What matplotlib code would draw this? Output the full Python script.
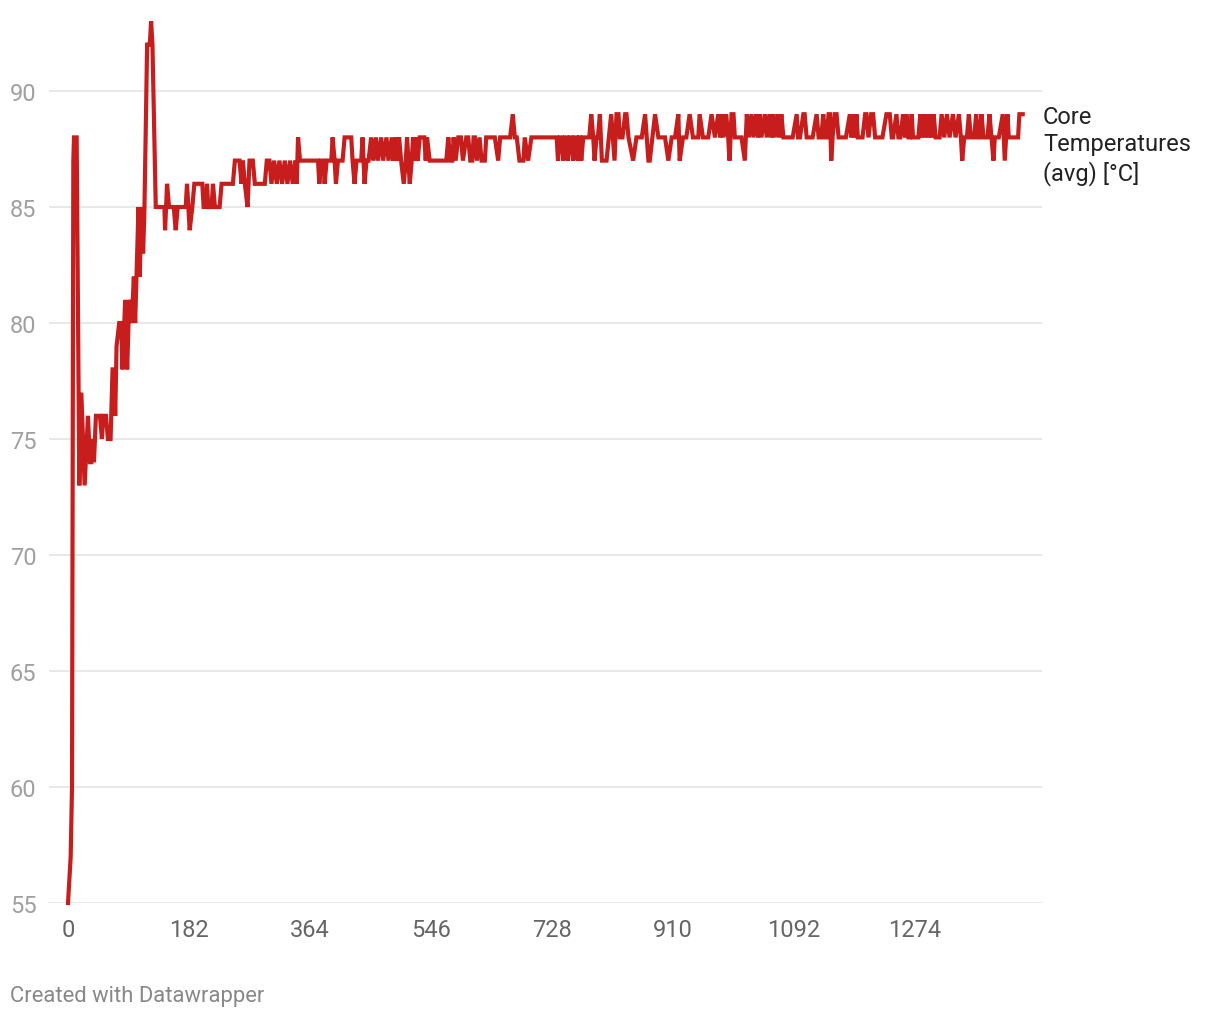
import matplotlib
matplotlib.use("Agg")
import matplotlib.pyplot as plt

# elapsed seconds / average core temperature, read as line vertices
seconds = [
    0, 2, 4, 6, 8, 9, 13, 17, 20, 25, 30, 33,
    35, 37, 39, 42, 48, 51, 53, 57, 60, 64, 67, 69,
    71, 73, 77, 80, 82, 86, 89, 92, 96, 99, 101, 103,
    106, 108, 110, 113, 115, 119, 123, 125, 127, 132, 145, 146,
    149, 152, 159, 162, 165, 177, 179, 183, 187, 190, 202, 204,
    208, 209, 211, 216, 218, 221, 228, 231, 248, 251, 258, 261,
    263, 266, 270, 273, 278, 281, 296, 299, 303, 306, 310, 314,
    318, 322, 326, 330, 334, 338, 342, 344, 346, 349, 376, 378,
    381, 384, 386, 389, 396, 398, 401, 403, 406, 413, 416, 426,
    428, 431, 434, 441, 443, 446, 449, 452, 456, 459, 463, 466,
    471, 474, 479, 482, 487, 489, 492, 495, 498, 501, 505, 508,
    510, 512, 514, 517, 519, 521, 524, 526, 529, 536, 538, 540,
    544, 569, 572, 575, 578, 580, 583, 587, 591, 594, 599, 602,
    605, 608, 610, 612, 615, 619, 622, 627, 629, 642,
    647, 650, 665, 669, 672, 675, 679, 685, 687, 692, 697, 735,
    737, 740, 743, 745, 748, 750, 752, 755, 757, 760, 762, 765,
    767, 769, 770, 772, 775, 784, 787, 790, 792, 795, 797, 800,
    803, 810, 817, 822, 825, 828, 830, 834, 838, 840, 843, 850,
    855, 863, 868, 873, 875, 883, 888, 898, 903, 908, 913, 918,
    920, 925, 930, 935, 940, 948, 950, 955, 963, 968, 973, 978,
    981, 983, 986, 990, 993, 995, 998, 1001, 1003, 1013, 1018, 1021,
    1024, 1028, 1031, 1035, 1038, 1040, 1043, 1048, 1051, 1055, 1058, 1060,
    1063, 1067, 1070, 1073, 1076, 1090, 1096, 1098, 1101, 1106, 1108, 1111,
    1120, 1126, 1129, 1133, 1136, 1139, 1141, 1144, 1146, 1148, 1150, 1153,
    1156, 1159, 1170, 1176, 1178, 1181, 1183, 1186, 1188, 1195, 1199, 1201,
    1204, 1208, 1211, 1214, 1225, 1231, 1236, 1239, 1241, 1246, 1249, 1252,
    1256, 1259, 1261, 1264, 1266, 1269, 1271, 1279, 1282, 1284, 1287, 1289,
    1292, 1294, 1297, 1299, 1302, 1305, 1311, 1314, 1318, 1322, 1326, 1331,
    1335, 1340, 1343, 1345, 1348, 1352, 1355, 1358, 1363, 1366, 1369, 1371,
    1374, 1377, 1383, 1386, 1389, 1392, 1394, 1397, 1400, 1406, 1409, 1413,
    1415, 1429, 1431, 1436,
]
core_temp = [
    55, 56, 57, 60, 87, 88, 88, 73, 77, 73, 76, 74,
    74, 75, 74, 76, 76, 75, 76, 76, 75, 75, 78, 78,
    76, 79, 80, 80, 78, 81, 78, 81, 80, 82, 80, 82,
    85, 82, 85, 83, 85, 92, 92, 93, 92, 85, 85, 84,
    86, 85, 85, 84, 85, 85, 86, 84, 85, 86, 86, 85,
    85, 86, 85, 85, 86, 85, 85, 86, 86, 87, 87, 86,
    87, 86, 85, 87, 87, 86, 86, 87, 87, 86, 87, 86,
    87, 86, 87, 86, 87, 86, 87, 86, 88, 87, 87, 86,
    87, 87, 86, 87, 87, 88, 87, 86, 87, 87, 88, 88,
    87, 86, 87, 87, 88, 86, 87, 87, 88, 87, 88, 87,
    88, 87, 88, 87, 88, 87, 88, 87, 88, 87, 86, 87,
    88, 87, 86, 87, 88, 87, 88, 87, 88, 88, 87, 88,
    87, 87, 88, 87, 87, 88, 87, 88, 88, 87, 88, 88,
    87, 87, 88, 88, 87, 88, 87, 87, 88, 88,
    87, 88, 88, 89, 88, 88, 87, 87, 88, 87, 88, 88,
    87, 88, 88, 87, 88, 88, 87, 88, 88, 87, 88, 88,
    87, 88, 88, 87, 88, 88, 89, 88, 87, 88, 88, 89,
    87, 87, 89, 87, 89, 89, 88, 88, 89, 89, 88, 87,
    88, 88, 89, 87, 87, 89, 88, 88, 87, 88, 88, 89,
    87, 88, 88, 89, 88, 88, 89, 88, 88, 89, 88, 89,
    88, 89, 88, 89, 88, 87, 89, 89, 88, 88, 87, 89,
    88, 89, 88, 89, 88, 89, 88, 89, 88, 89, 88, 89,
    88, 89, 88, 89, 88, 88, 89, 88, 88, 89, 89, 88,
    88, 89, 88, 88, 89, 88, 88, 89, 89, 87, 88, 89,
    89, 88, 88, 89, 88, 89, 88, 89, 88, 88, 89, 89,
    88, 89, 89, 88, 88, 89, 89, 88, 88, 89, 88, 88,
    89, 88, 89, 88, 88, 89, 88, 88, 89, 88, 89, 88,
    89, 88, 89, 88, 89, 88, 88, 89, 88, 89, 88, 89,
    88, 89, 88, 87, 88, 88, 89, 88, 88, 89, 88, 88,
    89, 88, 88, 89, 88, 87, 88, 88, 88, 89, 87, 89,
    88, 88, 89, 89,
]

x_ticks = [0, 182, 364, 546, 728, 910, 1092, 1274]
y_ticks = [55, 60, 65, 70, 75, 80, 85, 90]
series_label = "Core\nTemperatures\n(avg) [°C]"

plt.rcParams['font.family'] = ['Roboto', 'DejaVu Sans']

fig = plt.figure(figsize=(12.2, 10.2), dpi=100)
ax = fig.add_axes([49 / 1220, 116 / 1020, 993 / 1220, 886 / 1020])

ax.plot(seconds, core_temp, color='#c71e1d', linewidth=3.0,
        solid_joinstyle='miter', clip_on=False, zorder=3)

ax.set_xlim(-28.6, 1465)
ax.set_ylim(55, 93.19)
ax.set_xticks(x_ticks)
ax.set_yticks(y_ticks)
ax.set_xticklabels([str(t) for t in x_ticks], fontsize=17, color='#666666')
ax.set_yticklabels([str(t) for t in y_ticks], fontsize=17, color='#a0a0a0')
ax.tick_params(axis='both', length=0)
ax.tick_params(axis='x', pad=11)
ax.tick_params(axis='y', pad=9)
ax.yaxis.grid(True, color='#e2e2e2', linewidth=1.1)
ax.xaxis.grid(False)
ax.set_axisbelow(True)
for s in ax.spines.values():
    s.set_visible(False)

fig.text(1043 / 1220, 1 - 146 / 1020, series_label, fontsize=17,
         color='#222222', va='center', ha='left', linespacing=1.22)
fig.text(10 / 1220, 1 - 997 / 1020, "Created with Datawrapper", fontsize=15.8,
         color='#888888', va='center', ha='left')

fig.savefig('out.png', dpi=100)
